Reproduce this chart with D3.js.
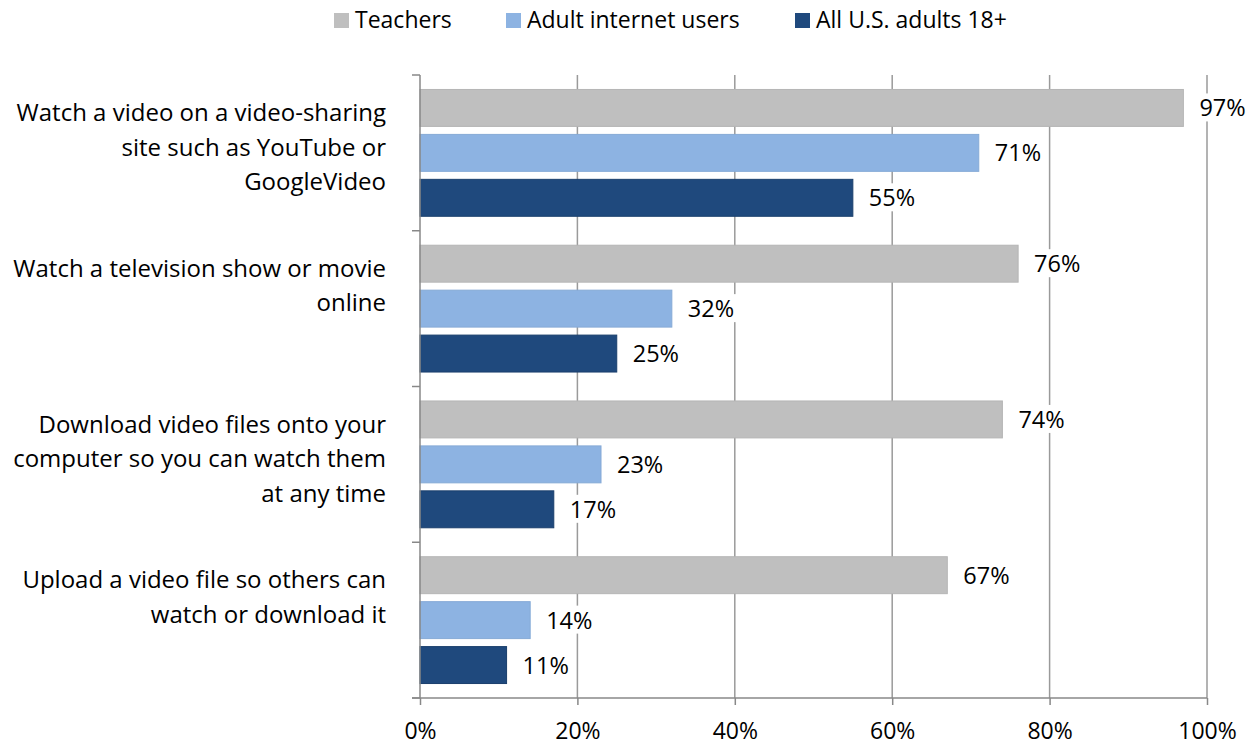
<!DOCTYPE html>
<html><head><meta charset="utf-8">
<script src="https://cdn.jsdelivr.net/npm/d3@7"></script>
<style>body{margin:0;background:#fff}svg{display:block}text{font-family:"Open Sans",sans-serif;fill:#000}</style>
</head><body><svg id="c" width="1255" height="745"></svg>
<script>
const categories = [
  ["Watch a video on a video-sharing","site such as YouTube or","GoogleVideo"],
  ["Watch a television show or movie","online"],
  ["Download video files onto your","computer so you can watch them","at any time"],
  ["Upload a video file so others can","watch or download it"]
];
const seriesNames = ["Teachers","Adult internet users","All U.S. adults 18+"];
const teachers = [97,76,74,67];
const adultInternet = [71,32,23,14];
const allAdults = [55,25,17,11];
const xTicks = [0,20,40,60,80,100];
const colors = ["#BFBFBF","#8DB3E2","#1F497D"];
const strokes = ["#B5B5B5","#86AAD6","#1A3F6C"];

const series = [teachers, adultInternet, allAdults];
const svg = d3.select("#c");
const x = d3.scaleLinear().domain([0,100]).range([420,1207]);
const idx = categories.map((d,i)=>i);
const y0 = d3.scaleBand().domain(idx).range([75,698]).padding(0);
const y1 = d3.scaleBand().domain([0,1,2]).range([0,y0.bandwidth()]).paddingInner(0.178).paddingOuter(0.322);

// gridlines
svg.append("g").selectAll("line").data(xTicks.filter(t=>t>0)).join("line")
  .attr("x1",d=>x(d)).attr("x2",d=>x(d)).attr("y1",75).attr("y2",698)
  .attr("stroke","#9A9A9A").attr("stroke-width",1.5);

// bars
const g = svg.append("g");
idx.forEach(i=>{
  series.forEach((s,j)=>{
    g.append("rect").attr("x",x(0)).attr("y",y0(i)+y1(j))
      .attr("width",x(s[i])-x(0)).attr("height",y1.bandwidth())
      .attr("fill",colors[j]).attr("stroke",strokes[j]).attr("stroke-width",1);
  });
});

// data labels
const lg = svg.append("g");
idx.forEach(i=>{
  series.forEach((s,j)=>{
    const cy = y0(i)+y1(j)+y1.bandwidth()/2;
    const t = lg.append("text").attr("x",x(s[i])+16).attr("y",cy+8.5)
      .attr("font-size",23.5).text(s[i]+"%");
    const b = t.node().getBBox();
    lg.insert("rect","text").attr("x",b.x-3).attr("y",b.y+2).attr("width",b.width+6).attr("height",b.height-4).attr("fill","#fff");
  });
});

// x axis
const xa = svg.append("g").attr("transform","translate(0,698)")
  .call(d3.axisBottom(x).tickValues(xTicks).tickSize(7).tickPadding(0).tickFormat(d=>d+"%"));
xa.select(".domain").attr("stroke","#888").attr("stroke-width",1.5).attr("d","M412,0H1207");
xa.selectAll(".tick line").attr("stroke","#888").attr("stroke-width",1.5);
xa.selectAll(".tick text").attr("font-size",23).attr("font-family","Open Sans").attr("fill","#000")
  .attr("dy",null).attr("y",41);

// y axis line & ticks
const bounds = idx.map(i=>y0(i)).concat([698]);
svg.append("line").attr("x1",420).attr("x2",420).attr("y1",75).attr("y2",698).attr("stroke","#888").attr("stroke-width",1.5);
svg.append("g").selectAll("line").data(bounds).join("line")
  .attr("x1",412).attr("x2",420).attr("y1",d=>d).attr("y2",d=>d).attr("stroke","#888").attr("stroke-width",1.5);

// category labels
idx.forEach(i=>{
  const t = svg.append("text").attr("text-anchor","end").attr("font-size",24);
  categories[i].forEach((line,k)=>{
    t.append("tspan").attr("x",386).attr("y",y0(i)+46+k*34.5).text(line);
  });
});

// legend
const legX = [334,506,795];
const leg = svg.append("g");
seriesNames.forEach((n,j)=>{
  leg.append("rect").attr("x",legX[j]).attr("y",13).attr("width",15).attr("height",15).attr("fill",colors[j]);
  leg.append("text").attr("x",legX[j]+21).attr("y",28).attr("font-size",23).text(n);
});
</script></body></html>
